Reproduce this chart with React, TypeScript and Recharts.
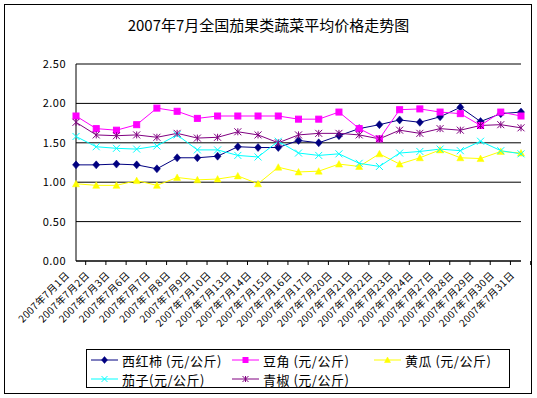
import React from 'react';
import { LineChart, Line, XAxis, YAxis, CartesianGrid, ReferenceLine } from 'recharts';

const categories = [
  '2007年7月1日', '2007年7月2日', '2007年7月3日', '2007年7月6日', '2007年7月7日', '2007年7月8日',
  '2007年7月9日', '2007年7月10日', '2007年7月13日', '2007年7月14日', '2007年7月15日', '2007年7月16日',
  '2007年7月17日', '2007年7月20日', '2007年7月21日', '2007年7月22日', '2007年7月23日', '2007年7月24日',
  '2007年7月27日', '2007年7月28日', '2007年7月29日', '2007年7月30日', '2007年7月31日',
];

const tomato = [1.22, 1.22, 1.23, 1.22, 1.17, 1.31, 1.31, 1.33, 1.45, 1.44, 1.44, 1.53, 1.50, 1.59, 1.68, 1.73, 1.79, 1.76, 1.83, 1.95, 1.77, 1.87, 1.89];
const bean = [1.84, 1.68, 1.66, 1.73, 1.94, 1.90, 1.81, 1.84, 1.84, 1.84, 1.84, 1.80, 1.80, 1.89, 1.68, 1.55, 1.92, 1.93, 1.89, 1.87, 1.72, 1.89, 1.84];
const cucumber = [0.98, 0.96, 0.96, 1.02, 0.96, 1.06, 1.03, 1.04, 1.08, 0.98, 1.19, 1.13, 1.14, 1.23, 1.20, 1.36, 1.23, 1.31, 1.41, 1.31, 1.30, 1.39, 1.37];
const eggplant = [1.58, 1.45, 1.43, 1.42, 1.46, 1.60, 1.41, 1.41, 1.34, 1.32, 1.52, 1.37, 1.34, 1.36, 1.24, 1.20, 1.37, 1.39, 1.42, 1.40, 1.52, 1.40, 1.36];
const pepper = [1.76, 1.60, 1.59, 1.60, 1.57, 1.62, 1.56, 1.57, 1.64, 1.60, 1.50, 1.60, 1.62, 1.62, 1.60, 1.55, 1.66, 1.62, 1.68, 1.66, 1.72, 1.73, 1.69];

const yTicks = [0, 0.5, 1.0, 1.5, 2.0, 2.5];
const title = '2007年7月全国茄果类蔬菜平均价格走势图';

type Shape = 'diamond' | 'square' | 'triangle' | 'x' | 'star';
const series: { key: string; name: string; color: string; values: number[]; shape: Shape }[] = [
  { key: 'tomato', name: '西红柿 (元/公斤)', color: '#000080', values: tomato, shape: 'diamond' },
  { key: 'bean', name: '豆角 (元/公斤)', color: '#FF00FF', values: bean, shape: 'square' },
  { key: 'cucumber', name: '黄瓜 (元/公斤)', color: '#FFFF00', values: cucumber, shape: 'triangle' },
  { key: 'eggplant', name: '茄子(元/公斤)', color: '#00FFFF', values: eggplant, shape: 'x' },
  { key: 'pepper', name: '青椒 (元/公斤)', color: '#800080', values: pepper, shape: 'star' },
];

const data = categories.map((c, i) => {
  const row: Record<string, number | string> = { cat: c };
  series.forEach((s) => { row[s.key] = s.values[i]; });
  return row;
});

const W = 537;
const H = 398;
const PLOT_LEFT = 76;
const PLOT_RIGHT = 521;
const PLOT_TOP = 64;
const PLOT_BOTTOM = 261;
const BAND = (PLOT_RIGHT - PLOT_LEFT) / categories.length;
const FONT = '"Noto Sans CJK SC", "DejaVu Sans", sans-serif';

function Marker({ cx, cy, shape, color, r = 3.5 }: { cx: number; cy: number; shape: Shape; color: string; r?: number }) {
  if (cx == null || cy == null) return null;
  switch (shape) {
    case 'diamond':
      return <polygon points={`${cx},${cy - r - 0.5} ${cx + r},${cy} ${cx},${cy + r + 0.5} ${cx - r},${cy}`} fill={color} stroke={color} strokeWidth={0.5} />;
    case 'square':
      return <rect x={cx - r + 0.5} y={cy - r + 0.5} width={2 * r - 1} height={2 * r - 1} fill={color} stroke={color} strokeWidth={1} />;
    case 'triangle':
      return <polygon points={`${cx},${cy - r} ${cx + r},${cy + r - 0.5} ${cx - r},${cy + r - 0.5}`} fill={color} stroke={color} strokeWidth={0.5} />;
    case 'x':
      return (
        <g stroke={color} strokeWidth={1}>
          <line x1={cx - r} y1={cy - r} x2={cx + r} y2={cy + r} />
          <line x1={cx - r} y1={cy + r} x2={cx + r} y2={cy - r} />
        </g>
      );
    case 'star':
      return (
        <g stroke={color} strokeWidth={1}>
          <line x1={cx - r} y1={cy - r} x2={cx + r} y2={cy + r} />
          <line x1={cx - r} y1={cy + r} x2={cx + r} y2={cy - r} />
          <line x1={cx} y1={cy - r} x2={cx} y2={cy + r} />
        </g>
      );
  }
  return null;
}

function XTick(props: any) {
  const { x, payload } = props;
  const ax = x - 6;
  const ay = PLOT_BOTTOM + 15;
  return (
    <g>
      <line x1={x + BAND / 2} y1={PLOT_BOTTOM} x2={x + BAND / 2} y2={PLOT_BOTTOM + 4} stroke="#000" strokeWidth={1} />
      <text
        x={ax}
        y={ay}
        transform={`rotate(-45 ${ax} ${ay})`}
        textAnchor="end"
        fontSize={10}
        letterSpacing={0.4}
        fontFamily={FONT}
        fill="#000"
      >
        {payload.value}
      </text>
    </g>
  );
}

function LegendBox() {
  const cols = [90, 231, 373];
  const rows = [359, 378];
  return (
    <div
      style={{
        position: 'absolute',
        left: 86,
        top: 349,
        width: 424,
        height: 39,
        border: '1px solid #000',
        boxSizing: 'border-box',
      }}
    >
      {series.map((s, i) => {
        const col = i % 3;
        const row = Math.floor(i / 3);
        const lx = cols[col] - 86;
        const ly = rows[row] - 349;
        return (
          <div key={s.key} style={{ position: 'absolute', left: lx, top: ly - 9, height: 18, display: 'flex', alignItems: 'center' }}>
            <svg width={28} height={18} style={{ display: 'block' }}>
              <line x1={0} y1={9} x2={27} y2={9} stroke={s.color} strokeWidth={1} />
              <Marker cx={13.5} cy={9} shape={s.shape} color={s.color} r={3} />
            </svg>
            <span style={{ fontFamily: FONT, fontSize: 13, letterSpacing: 0.5, marginLeft: 3, whiteSpace: 'nowrap', color: '#000' }}>{s.name}</span>
          </div>
        );
      })}
    </div>
  );
}

export default function App() {
  return (
    <div style={{ position: 'absolute', left: 0, top: 0, width: W, height: H, background: '#fff' }}>
      <div
        style={{
          position: 'absolute',
          left: 4,
          top: 4,
          width: 528,
          height: 390,
          border: '1px solid #000',
          boxSizing: 'border-box',
        }}
      />
      <div
        style={{
          position: 'absolute',
          left: 0,
          top: 14,
          width: W,
          textAlign: 'center',
          fontFamily: FONT,
          fontSize: 15,
          color: '#000',
        }}
      >
        {title}
      </div>
      <div style={{ position: 'absolute', left: 0, top: 0 }}>
        <LineChart
          width={W}
          height={H}
          data={data}
          margin={{ top: PLOT_TOP, right: W - PLOT_RIGHT, bottom: 0, left: 16 }}
        >
          <CartesianGrid horizontal vertical={false} stroke="#000" strokeWidth={1} />
          <ReferenceLine y={2.5} stroke="#808080" strokeWidth={1} />
          <XAxis
            dataKey="cat"
            interval={0}
            height={H - PLOT_BOTTOM}
            axisLine={{ stroke: '#000' }}
            tickLine={false}
            tick={<XTick />}
          />
          <YAxis
            domain={[0, 2.5]}
            ticks={yTicks}
            width={60}
            axisLine={{ stroke: '#000' }}
            tickLine={false}
            tickMargin={4}
            tickFormatter={(v: number) => v.toFixed(2)}
            tick={{ fontSize: 11, fontFamily: FONT, fill: '#000', letterSpacing: 0.5 }}
          />
          <YAxis
            yAxisId="r"
            orientation="right"
            domain={[0, 2.5]}
            width={0}
            tick={false}
            tickLine={false}
            axisLine={{ stroke: '#808080' }}
          />
          {series.map((s) => (
            <Line
              key={s.key}
              dataKey={s.key}
              name={s.name}
              type="linear"
              stroke={s.color}
              strokeWidth={1}
              isAnimationActive={false}
              dot={(p: any) => <Marker key={`${s.key}-${p.index}`} cx={p.cx} cy={p.cy} shape={s.shape} color={s.color} />}
              activeDot={false}
            />
          ))}
        </LineChart>
      </div>
      <LegendBox />
    </div>
  );
}
